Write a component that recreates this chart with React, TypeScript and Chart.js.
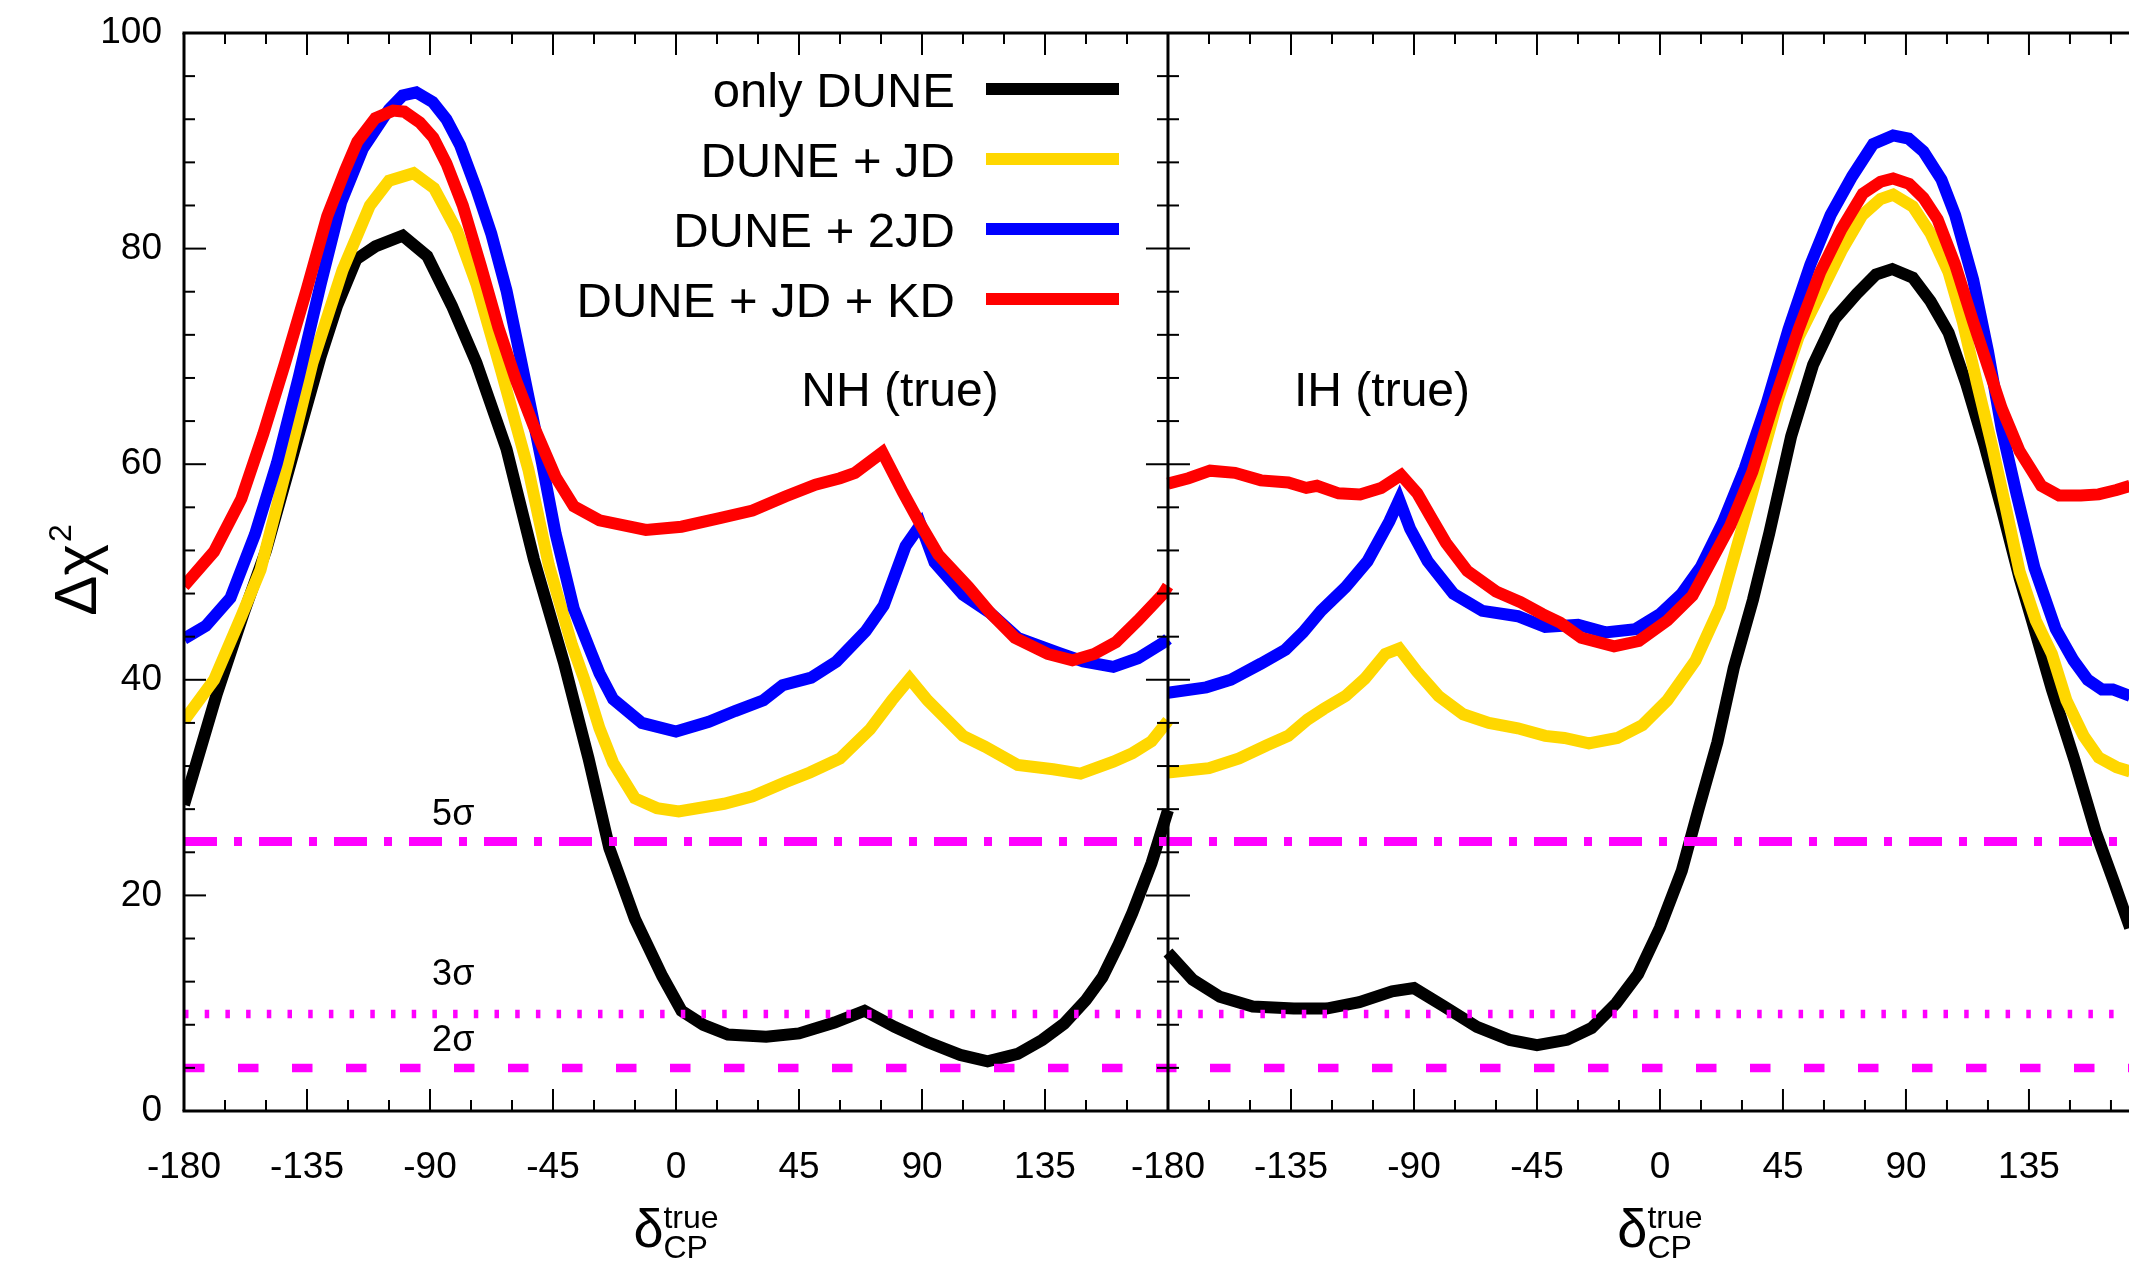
import React, { useEffect, useRef } from 'react';
import { Chart, registerables } from 'chart.js';

Chart.register(...registerables);

const FONT = "'Liberation Sans', Arial, Helvetica, sans-serif";

type P = [number, number];

// ---------- NH (true) panel : [delta_CP (deg), delta chi^2] ----------
const nhOnlyDune: P[] = [
  [-180, 28.4], [-168, 38.7], [-158, 46.3], [-150, 52.0], [-140, 61.0], [-130, 70.0],
  [-124, 74.7], [-117, 79.0], [-110, 80.2], [-100, 81.2], [-91, 79.3], [-82, 74.7],
  [-73, 69.4], [-62, 61.4], [-52, 51.2], [-41, 41.6], [-32, 32.7], [-24.4, 24.4],
  [-15, 17.8], [-5, 12.5], [2, 9.3], [10, 8.0], [19, 7.1], [33, 6.9], [45, 7.2],
  [58, 8.2], [69, 9.3], [80, 7.8], [92, 6.4], [104, 5.2], [114, 4.6], [125, 5.3],
  [134, 6.6], [142, 8.1], [150, 10.3], [156, 12.4], [162, 15.5], [167, 18.4],
  [174, 23.0], [180, 27.9],
];
const nhDuneJD: P[] = [
  [-180, 36.2], [-169, 40.0], [-159, 45.9], [-152, 50.2], [-142, 60.1], [-133, 69.4],
  [-122, 78.0], [-112, 84.0], [-105, 86.3], [-96, 87.0], [-88.5, 85.6], [-80, 81.6],
  [-73, 76.7], [-64, 68.7], [-54, 59.5], [-46.5, 50.6], [-38, 43.2], [-33.5, 40.0],
  [-28, 35.5], [-23, 32.3], [-15, 29.0], [-7, 28.1], [1, 27.8], [17.6, 28.5],
  [28, 29.2], [40, 30.5], [49, 31.4], [60, 32.7], [71, 35.4], [79, 38.1], [85.5, 40.1],
  [92, 38.1], [105, 34.8], [113, 33.8], [125, 32.1], [138, 31.7], [148, 31.3],
  [160, 32.4], [167, 33.2], [174, 34.3], [180, 36.2],
];
const nhDune2JD: P[] = [
  [-180, 43.8], [-172, 45.0], [-163, 47.6], [-154, 53.5], [-146, 60.1], [-138, 68.1],
  [-130, 76.7], [-122.5, 84.3], [-114.5, 89.3], [-105, 92.9], [-100, 94.2], [-95, 94.5],
  [-89, 93.6], [-84, 92.0], [-79, 89.6], [-73, 85.5], [-67.6, 81.4], [-62, 76.1],
  [-57, 70.0], [-49, 60.1], [-44, 53.5], [-37.4, 46.6], [-31, 42.5], [-28, 40.6],
  [-23, 38.2], [-12.5, 36.0], [0, 35.2], [12, 36.1], [21.6, 37.1], [32, 38.1],
  [39, 39.5], [49.5, 40.2], [58.7, 41.7], [69.4, 44.5], [76, 46.9], [84, 52.4],
  [89.5, 54.4], [94.6, 50.9], [105, 47.9], [115, 46.2], [125, 43.9], [140, 42.5],
  [149, 41.7], [160, 41.2], [169, 42.0], [178.6, 43.5], [180, 43.8],
];
const nhDuneJDKD: P[] = [
  [-180, 48.7], [-169, 51.9], [-159, 56.8], [-151, 62.8], [-143, 69.4], [-135, 76.3],
  [-127.6, 83.0], [-121, 87.3], [-116.6, 89.9], [-110, 92.1], [-103.5, 92.8],
  [-99.4, 92.7], [-93.7, 91.7], [-88.8, 90.3], [-84, 87.9], [-78, 84.0], [-71.4, 78.4],
  [-65, 72.7], [-58.4, 67.7], [-52, 63.5], [-44, 58.8], [-37.4, 56.1], [-28, 54.8],
  [-11, 53.9], [2, 54.2], [16, 55.0], [28, 55.7], [40, 57.0], [51, 58.1], [60, 58.7],
  [65.5, 59.2], [75.5, 61.1], [83, 57.4], [89.5, 54.4], [96, 51.6], [107, 48.6],
  [115, 46.2], [124, 43.9], [136, 42.4], [145, 41.8], [153, 42.4], [161, 43.5],
  [169, 45.5], [178, 47.9], [180, 48.7],
];

// ---------- IH (true) panel ----------
const ihOnlyDune: P[] = [
  [-180, 14.7], [-171, 12.2], [-161, 10.6], [-149, 9.7], [-134, 9.5], [-122, 9.5],
  [-110, 10.1], [-98, 11.1], [-90, 11.4], [-79, 9.7], [-67, 7.8], [-55, 6.6], [-45, 6.1],
  [-34, 6.6], [-25, 7.7], [-16, 10.0], [-8, 12.7], [0, 17.0], [8, 22.3], [14, 27.9],
  [21, 34.2], [27, 41.1], [34, 47.4], [40, 53.6], [48, 62.6], [56, 69.2], [64, 73.5],
  [72, 75.8], [79, 77.6], [85, 78.1], [92.5, 77.3], [99, 75.1], [105.6, 72.2],
  [112, 67.5], [118.6, 61.9], [125, 55.9], [131.6, 49.4], [136, 45.6], [143.4, 39.1],
  [151.6, 32.6], [159.4, 25.9], [166, 21.3], [172, 17.0], [180, 14.7],
];
const ihDuneJD: P[] = [
  [-180, 31.4], [-165, 31.8], [-154, 32.7], [-144, 33.9], [-136, 34.8], [-129, 36.3],
  [-123, 37.3], [-115, 38.5], [-108, 40.1], [-100.5, 42.4], [-95.4, 42.9], [-89, 40.8],
  [-81, 38.5], [-72, 36.8], [-62.6, 36.0], [-52, 35.5], [-42, 34.8], [-35, 34.6],
  [-26, 34.1], [-15.6, 34.6], [-6.4, 35.8], [2.7, 38.1], [13, 41.8], [22, 46.8],
  [25, 49.5], [34, 57.6], [43, 65.9], [50.7, 71.8], [58.6, 75.8], [66.4, 79.8],
  [74, 83.1], [80.7, 84.6], [85.3, 85.0], [92.5, 83.9], [99, 81.4], [105.6, 77.8],
  [110.8, 73.2], [116, 67.5], [121.6, 61.6], [126.6, 55.9], [131.6, 50.0],
  [137.5, 45.5], [143.4, 42.4], [148.7, 38.1], [155, 34.8], [160.5, 32.8], [167, 31.9],
  [172, 31.5], [180, 31.4],
];
const ihDune2JD: P[] = [
  [-180, 38.8], [-166, 39.3], [-157, 40.0], [-146, 41.5], [-137, 42.8], [-130.6, 44.4],
  [-124, 46.4], [-115, 48.6], [-107, 51.0], [-99, 54.7], [-95.4, 56.7], [-91.4, 54.0],
  [-85, 51.0], [-75.6, 48.0], [-65, 46.4], [-52, 45.9], [-42, 44.9], [-30, 45.1],
  [-20, 44.4], [-9, 44.7], [0, 46.1], [8, 48.0], [15, 50.5], [23, 54.6], [31, 59.6],
  [39, 65.6], [47, 72.5], [55, 78.5], [62.4, 83.1], [70.3, 86.7], [78, 89.7],
  [85.3, 90.5], [91, 90.2], [96.4, 89.0], [103, 86.4], [108, 83.1], [114.6, 77.1],
  [120, 70.5], [125, 63.3], [130.4, 57.3], [137, 50.4], [144.8, 44.7], [151.3, 41.8],
  [156.5, 40.0], [161.7, 39.1], [165.7, 39.1], [172, 38.5], [180, 38.8],
];
const ihDuneJDKD: P[] = [
  [-180, 58.2], [-172.5, 58.7], [-164.6, 59.4], [-155.5, 59.2], [-146, 58.5],
  [-136, 58.3], [-129.4, 57.8], [-125.5, 58.0], [-117.6, 57.3], [-109.7, 57.2],
  [-102, 57.8], [-94.7, 59.0], [-88.8, 57.3], [-83.6, 55.0], [-78.3, 52.7],
  [-70.5, 50.1], [-60, 48.2], [-51, 47.2], [-43, 46.1], [-36.5, 45.3], [-28.8, 43.9],
  [-16.8, 43.1], [-7.7, 43.6], [2.7, 45.5], [11.9, 47.8], [17, 50.2], [25.7, 54.3],
  [33.8, 59.3], [41.5, 65.6], [50.7, 72.5], [58.6, 77.8], [66.4, 81.8], [74.2, 85.1],
  [80.7, 86.2], [85.3, 86.5], [91.2, 86.0], [96.4, 84.7], [101.6, 82.7], [108, 78.5],
  [114.6, 73.2], [119.8, 69.2], [125, 65.2], [131.6, 61.2], [139.5, 58.0], [146, 57.1],
  [154, 57.1], [160.5, 57.2], [167, 57.6], [172, 58.0], [180, 58.2],
];

const seriesNames = ['only DUNE', 'DUNE + JD', 'DUNE + 2JD', 'DUNE + JD + KD'];
const seriesColors = ['#000000', '#FFD700', '#0000FF', '#FF0000'];
const panelNames = ['NH (true)', 'IH (true)'];
const xTickValues = [-180, -135, -90, -45, 0, 45, 90, 135];
const yTickStep = 20;
const sigmaLevels = [25, 9, 4];
const sigmaNames = ['5σ', '3σ', '2σ'];

const PANEL_SHIFT = 360;
const X_MIN = -180;
const X_MAX = 531.6;
const X_MINOR = 15;
const Y_MINOR = 4;
const CURVE_WIDTH = 12;

const toPts = (arr: P[], shift: number) => arr.map(([d, v]) => ({ x: d + shift, y: v }));

const decorPlugin = {
  id: 'decor',
  afterDraw(chart: any) {
    const { ctx, chartArea: a } = chart;
    const xs = chart.scales.x;
    const ys = chart.scales.y;
    const seg = (x1: number, y1: number, x2: number, y2: number) => {
      ctx.beginPath();
      ctx.moveTo(x1, y1);
      ctx.lineTo(x2, y2);
      ctx.stroke();
    };
    ctx.save();
    ctx.strokeStyle = '#000';
    ctx.lineCap = 'butt';
    ctx.lineWidth = 2;
    const xm = xs.getPixelForValue(180);
    for (let v = X_MIN + X_MINOR; v < X_MAX; v += X_MINOR) {
      if (v === 180) continue;
      const px = xs.getPixelForValue(v);
      const len = (v + 180) % 45 === 0 ? 22 : 11;
      seg(px, a.bottom, px, a.bottom - len);
      seg(px, a.top, px, a.top + len);
    }
    for (let v = Y_MINOR; v < 100; v += Y_MINOR) {
      const py = ys.getPixelForValue(v);
      const len = v % yTickStep === 0 ? 22 : 11;
      seg(a.left, py, a.left + len, py);
      seg(xm - len, py, xm + len, py);
    }
    ctx.lineWidth = 3;
    seg(a.left - 1.5, a.top, a.right, a.top);
    seg(a.left - 1.5, a.bottom, a.right, a.bottom);
    seg(a.left, a.top, a.left, a.bottom);
    seg(xm, a.top, xm, a.bottom);

    ctx.fillStyle = '#000';
    // legend
    ctx.textAlign = 'right';
    ctx.textBaseline = 'alphabetic';
    ctx.font = `49px ${FONT}`;
    seriesNames.forEach((name, i) => {
      const rowY = 89 + 70 * i;
      ctx.fillText(name, 955, rowY + 18);
      ctx.strokeStyle = seriesColors[i];
      ctx.lineWidth = CURVE_WIDTH;
      seg(986, rowY, 1119, rowY);
    });
    // panel labels
    ctx.textAlign = 'center';
    ctx.font = `48px ${FONT}`;
    ctx.fillText(panelNames[0], 900, 406);
    ctx.fillText(panelNames[1], 1382, 406);
    // sigma labels
    ctx.font = `36px ${FONT}`;
    const sigOff = [17, 29, 17];
    const sx = xs.getPixelForValue(-81.5);
    sigmaLevels.forEach((lv, i) => {
      ctx.fillText(sigmaNames[i], sx, ys.getPixelForValue(lv) - sigOff[i]);
    });
    // x titles
    ctx.textAlign = 'left';
    [0, PANEL_SHIFT].forEach((c) => {
      const cx = xs.getPixelForValue(c);
      ctx.font = `54px ${FONT}`;
      const wd = ctx.measureText('δ').width;
      ctx.font = `32px ${FONT}`;
      const wt = Math.max(ctx.measureText('true').width, ctx.measureText('CP').width);
      const left = cx - (wd + wt) / 2;
      ctx.font = `54px ${FONT}`;
      ctx.fillText('δ', left, 1247);
      ctx.font = `32px ${FONT}`;
      ctx.fillText('true', left + wd, 1228);
      ctx.fillText('CP', left + wd, 1258);
    });
    // y title
    ctx.save();
    ctx.translate(96, 570);
    ctx.rotate(-Math.PI / 2);
    ctx.font = `60px ${FONT}`;
    const wMain = ctx.measureText('Δχ').width;
    ctx.font = `32px ${FONT}`;
    const wSup = ctx.measureText('2').width;
    const total = wMain + wSup + 2;
    ctx.font = `60px ${FONT}`;
    ctx.fillText('Δχ', -total / 2, 0);
    ctx.font = `32px ${FONT}`;
    ctx.fillText('2', -total / 2 + wMain + 2, -25);
    ctx.restore();

    ctx.restore();
  },
};

export default function App() {
  const ref = useRef<HTMLCanvasElement | null>(null);
  useEffect(() => {
    document.body.style.margin = '0';
    const canvas = ref.current;
    if (!canvas) return;
    const nh = [nhOnlyDune, nhDuneJD, nhDune2JD, nhDuneJDKD];
    const ih = [ihOnlyDune, ihDuneJD, ihDune2JD, ihDuneJDKD];
    const datasets: any[] = [];
    const dashes = [[33, 17, 8, 17], [4.5, 16.2], [20.5, 33.5]];
    const widths = [9, 8.5, 8.5];
    sigmaLevels.forEach((lv, i) => {
      datasets.push({
        label: sigmaNames[i],
        data: [{ x: X_MIN, y: lv }, { x: X_MAX, y: lv }],
        borderColor: '#FF00FF',
        borderWidth: widths[i],
        borderDash: dashes[i],
        order: 0,
      });
    });
    for (let i = 0; i < 4; i++) {
      datasets.push({
        label: seriesNames[i] + ' NH',
        data: toPts(nh[i], 0),
        borderColor: seriesColors[i],
        borderWidth: CURVE_WIDTH,
        order: 4 - i,
      });
      datasets.push({
        label: seriesNames[i] + ' IH',
        data: toPts(ih[i], PANEL_SHIFT),
        borderColor: seriesColors[i],
        borderWidth: CURVE_WIDTH,
        order: 4 - i,
      });
    }
    const chart = new Chart(canvas, {
      type: 'line',
      data: { datasets },
      options: {
        animation: false,
        responsive: false,
        devicePixelRatio: 1,
        layout: { padding: { top: 33, left: 0, right: 0, bottom: 0 } },
        elements: {
          point: { radius: 0, hoverRadius: 0 },
          line: { tension: 0, borderCapStyle: 'butt', borderJoinStyle: 'miter', fill: false },
        },
        plugins: { legend: { display: false }, tooltip: { enabled: false }, title: { display: false } },
        scales: {
          x: {
            type: 'linear',
            min: X_MIN,
            max: X_MAX,
            grid: { display: false, drawTicks: false },
            border: { display: false },
            afterBuildTicks: (s: any) => {
              const vals = [...xTickValues, ...xTickValues.map((v) => v + PANEL_SHIFT)];
              s.ticks = vals.map((v) => ({ value: v }));
            },
            afterFit: (s: any) => { s.height = 161; },
            ticks: {
              autoSkip: false,
              maxRotation: 0,
              minRotation: 0,
              includeBounds: false,
              padding: 35,
              color: '#000',
              font: { family: FONT, size: 37 },
              callback: (v: any) => String(Number(v) >= 180 ? Number(v) - PANEL_SHIFT : Number(v)),
            },
          },
          y: {
            type: 'linear',
            min: 0,
            max: 100,
            grid: { display: false, drawTicks: false },
            border: { display: false },
            afterFit: (s: any) => {
              s.width = 184;
              s.paddingTop = 0;
              s.paddingBottom = 0;
            },
            ticks: {
              stepSize: yTickStep,
              padding: 22,
              color: '#000',
              font: { family: FONT, size: 37 },
            },
          },
        },
      },
      plugins: [decorPlugin],
    } as any);
    return () => chart.destroy();
  }, []);
  return <canvas ref={ref} width={2129} height={1272} style={{ display: 'block' }} />;
}
